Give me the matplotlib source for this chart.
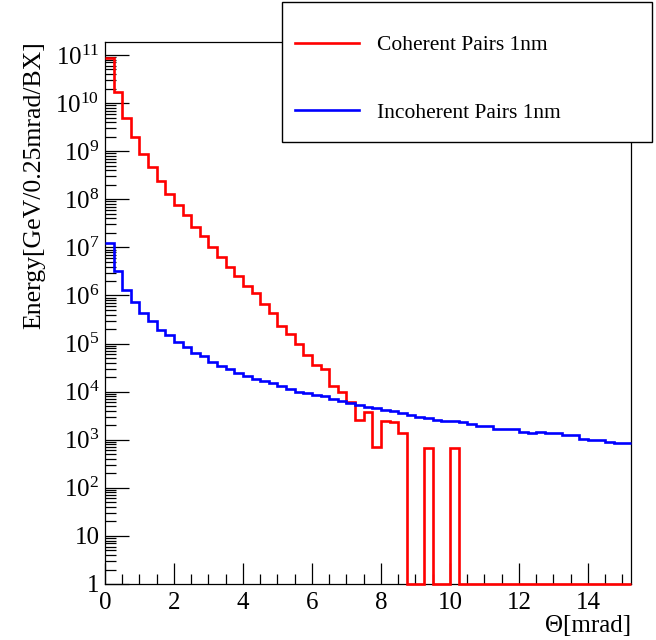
#!/usr/bin/env python3
from matplotlib import pyplot as plt
from matplotlib import ticker
from matplotlib.patches import Rectangle
import numpy as np

plt.rcParams['font.family'] = ['Liberation Serif', 'DejaVu Serif']
plt.rcParams['mathtext.fontset'] = 'custom'
plt.rcParams['mathtext.rm'] = 'Liberation Serif'
plt.rcParams['mathtext.it'] = 'Liberation Serif:italic'

# histogram binning: 61 bins of 0.25 mrad
bin_width = 0.25
n_bins = 61

# energy per bin, GeV/0.25mrad/BX (0 = empty bin)
coherent = [
    8.5e10, 1.7e10, 4.9e9, 1.95e9, 8.7e8, 4.6e8, 2.4e8, 1.3e8, 7.6e7, 4.6e7,
    2.7e7, 1.75e7, 1.0e7, 6.3e6, 4.0e6, 2.5e6, 1.6e6, 1.1e6, 6.6e5, 4.3e5,
    2.3e5, 1.6e5, 1.0e5, 5.8e4, 3.6e4, 3.0e4, 1.3e4, 1.0e4, 6.0e3, 2.6e3,
    3.7e3, 6.9e2, 2.4e3, 2.3e3, 1.4e3, 0, 0, 6.6e2, 0, 0,
    6.6e2, 0, 0, 0, 0, 0, 0, 0, 0, 0,
    0, 0, 0, 0, 0, 0, 0, 0, 0, 0,
    0,
]
incoherent = [
    1.26e7, 3.2e6, 1.3e6, 7.4e5, 4.4e5, 2.9e5, 1.95e5, 1.48e5, 1.1e5, 8.5e4,
    6.3e4, 5.5e4, 4.2e4, 3.4e4, 3.0e4, 2.5e4, 2.15e4, 1.86e4, 1.7e4, 1.48e4,
    1.29e4, 1.12e4, 1.0e4, 9.5e3, 8.7e3, 8.1e3, 6.9e3, 6.3e3, 5.9e3, 5.2e3,
    4.9e3, 4.5e3, 4.2e3, 4.0e3, 3.6e3, 3.3e3, 3.0e3, 2.8e3, 2.6e3, 2.5e3,
    2.5e3, 2.35e3, 2.1e3, 1.9e3, 1.9e3, 1.7e3, 1.7e3, 1.7e3, 1.45e3, 1.4e3,
    1.45e3, 1.35e3, 1.35e3, 1.23e3, 1.23e3, 1.05e3, 9.8e2, 9.8e2, 8.9e2, 8.7e2,
    8.7e2,
]
labels = ["Coherent Pairs 1nm", "Incoherent Pairs 1nm"]
colors = ["#ff0000", "#0000ff"]

ymin, ymax = 1, 1.9e11
edges = np.arange(n_bins + 1) * bin_width


def log_label(v, pos):
    if v == 1:
        return "1"
    if v == 10:
        return "10"
    return r"$10^{%d}$" % round(np.log10(v))


fig = plt.figure(figsize=(6.56, 6.40), dpi=100)
ax = fig.add_axes([0.160, 0.0875, 0.802, 0.8475])

handles = []
for vals, col, lab in zip([coherent, incoherent], colors, labels):
    # empty bins are drawn on the lower frame, like ROOT does
    v = np.where(np.array(vals) > 0, vals, ymin)
    ax.stairs(v, edges, baseline=None, color=col, lw=1.9, zorder=3, clip_on=False)
    handles.append(plt.Line2D([], [], color=col, lw=1.9))

ax.set_yscale("log")
ax.set_ylim(ymin, ymax)
ax.set_xlim(0, edges[-1])

ax.xaxis.set_major_locator(ticker.MultipleLocator(2))
ax.xaxis.set_minor_locator(ticker.MultipleLocator(0.5))
ax.yaxis.set_major_locator(ticker.LogLocator(base=10, numticks=20))
ax.yaxis.set_minor_locator(ticker.LogLocator(base=10, subs=np.arange(2, 10), numticks=20))
ax.yaxis.set_major_formatter(ticker.FuncFormatter(log_label))
ax.yaxis.set_minor_formatter(ticker.NullFormatter())

ax.tick_params(which="both", direction="in", top=False, right=False, labelsize=18, width=0.9)
ax.tick_params(axis="x", which="major", length=15, pad=6)
ax.tick_params(axis="x", which="minor", length=7)
ax.tick_params(axis="y", which="major", length=17, pad=4)
ax.tick_params(axis="y", which="minor", length=8)
for s in ax.spines.values():
    s.set_linewidth(0.9)

fig.text(0.053, 0.935, "Energy[GeV/0.25mrad/BX]", rotation=90, ha="center", va="top", fontsize=18.5)
fig.text(0.962, 0.004, "\u0398[mrad]", ha="right", va="bottom", fontsize=18)

# legend box (ROOT TLegend style), drawn over the top frame
fig.patches.append(Rectangle((0.430, 0.778), 0.564, 0.219, transform=fig.transFigure,
                             facecolor="white", edgecolor="black", lw=1.0, zorder=4))
leg = fig.legend(handles, labels, loc="upper left", bbox_to_anchor=(0.4497, 0.945),
                 fontsize=15.5, frameon=False, borderpad=0, borderaxespad=0,
                 handlelength=2.95, handletextpad=0.85, labelspacing=2.2)
leg.set_zorder(5)

fig.savefig("out.png", dpi=100)
